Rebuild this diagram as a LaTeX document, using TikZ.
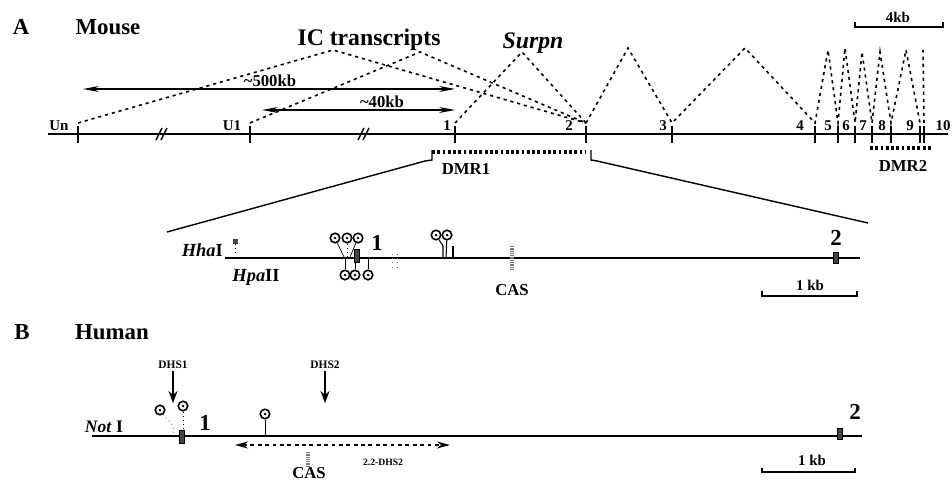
\documentclass[tikz,border=0pt]{standalone}
\usepackage{fontspec}
\setmainfont{Liberation Serif}
\usepackage{tikz}
\usetikzlibrary{positioning, arrows.meta}
\definecolor{sitegray}{HTML}{444444}
\definecolor{spangray}{HTML}{777777}

\tikzset{
  gene/.style={line width=0.8pt},
  exontick/.style={line width=1.3pt},
  splice/.style={line width=0.9pt, dash pattern=on 1.8pt off 2.2pt},
  dmrbar/.style={line width=2.6pt, dash pattern=on 1.6pt off 1.4pt},
  span/.style={line width=0.7pt, <->, >={Stealth[length=3.2mm, width=1.2mm, fill=spangray]}},
  cpg/.style={circle, draw, line width=0.9pt, inner sep=0pt, minimum size=0.19cm, fill=white},
  exonbox/.style={draw, fill=sitegray, line width=0.4pt, inner sep=0pt,
    minimum width=0.11cm, minimum height=0.26cm},
  casmark/.style={line width=1.8pt, draw=spangray, dash pattern=on 0.7pt off 0.6pt},
  panel/.style={font=\bfseries\fontsize{13}{15}\selectfont},
  title/.style={font=\bfseries\fontsize{13.5}{15}\selectfont},
  exlbl/.style={font=\bfseries\fontsize{8.5}{10}\selectfont, inner sep=1pt},
  lbl/.style={font=\bfseries\fontsize{9.5}{11}\selectfont, inner sep=1pt},
  tiny/.style={font=\bfseries\fontsize{6.5}{7}\selectfont, inner sep=1pt},
  bignum/.style={font=\bfseries\fontsize{13}{15}\selectfont, inner sep=1pt}
}

\begin{document}
\begin{tikzpicture}[x=0.02cm, y=-0.02cm]
  \useasboundingbox (0,0) rectangle (952,480);

  % --- A: mouse locus
  \node[panel] (pa) at (21,27) {A};
  \node[panel] (mouse) at (108,27) {Mouse};
  \node[title] (ic) at (369,40) {IC transcripts};
  \node[title, font=\bfseries\itshape\fontsize{13.5}{15}\selectfont] (surpn) at (533,43) {Surpn};

  \draw[gene] (48,134) -- (948,134);
  \foreach \n/\x in {un/78, u1/250, e1/455, e2/586, e3/672, e4/815, e5/838,
                     e6/855, e7/872, e8/891, e9/920, e9b/924} {
    \draw[exontick] (\x,126) -- (\x,143);
    \coordinate (\n) at (\x,123);
  }
  \foreach \t/\x in {Un/59, U1/232, 1/447, 2/569, 3/663, 4/800, 5/828,
                     6/846, 7/863, 8/882, 9/910, 10/943}
    \node[exlbl] (lb\t) at (\x,126) {\t};
  \foreach \x in {163,365}
    \draw[gene] (\x-7,140) -- (\x-1,128) (\x-2,140) -- (\x+4,128);

  \draw[span] (83,89) -- (455,89);
  \node[lbl] (k500) at (270,81) {\textasciitilde500kb};
  \draw[span] (262,110) -- (455,110);
  \node[lbl] (k40) at (382,102) {\textasciitilde40kb};

  % splicing
  \coordinate (icL) at (333,50);  \coordinate (icR) at (420,52);
  \coordinate (sn) at (522,52);   \coordinate (a23) at (628,48);
  \coordinate (a34) at (745,48);  \coordinate (a45) at (828,50);
  \coordinate (a56) at (845,48);  \coordinate (a67) at (862,52);
  \coordinate (a78) at (880,52);  \coordinate (a89) at (906,50);
  \coordinate (a9) at (923,50);
  \draw[splice] (un) -- (icL) -- (e2);
  \draw[splice] (u1) -- (icR) -- (e2);
  \draw[splice] (e1) -- (sn) -- (e2);
  \draw[splice] (e2) -- (a23) -- (e3) -- (a34) -- (e4) -- (a45) -- (e5) -- (a56)
    -- (e6) -- (a67) -- (e7) -- (a78) -- (e8) -- (a89) -- (e9);
  \draw[splice] (e9b) -- (a9);

  \draw[line width=0.6pt] (855,22) -- (855,27) -- (943,27) -- (943,22);
  \node[exlbl] (k4) at (898,17) {4kb};

  % DMRs and zoom
  \draw[dmrbar] (432,152) -- (585,152);
  \node[lbl] (dmr1) at (466,169) {DMR1};
  \draw[dmrbar] (870,148) -- (932,148);
  \node[lbl] (dmr2) at (903,166) {DMR2};
  \draw[gene] (432,150) -- (432,160) -- (425,161) -- (167,232);
  \draw[gene] (591,150) -- (591,160) -- (597,161) -- (868,223);

  % DMR1 detail
  \draw[gene] (225,258) -- (860,258);
  \node[lbl, font=\bfseries\fontsize{10.5}{12}\selectfont, anchor=east] (hha) at (225,250) {\textit{Hha}I};
  \node[lbl, font=\bfseries\fontsize{10.5}{12}\selectfont] (hpa) at (256,277) {\textit{Hpa}II};
  \draw[dotted, thin] (235,244) -- (235,258);
  \node[fill=sitegray, inner sep=0pt, minimum size=0.1cm] (hs) at (235,241) {};

  \node[cpg] (u1c) at (335,238) {};
  \node[cpg] (u2c) at (347,238) {};
  \node[cpg] (u3c) at (358,238) {};
  \draw[thin] (u1c) -- (344,257) (u3c) -- (350,257);
  \draw[dotted, thin] (u2c) -- (347,257);
  \node[cpg] (d1c) at (345,275) {};
  \node[cpg] (d2c) at (355,275) {};
  \node[cpg] (d3c) at (368,275) {};
  \foreach \c in {d1c, d2c, d3c}
    \draw[thin] (\c.north) -- (\c.north |- 0,258);
  \node[exonbox] (m1) at (357,256) {};
  \node[bignum] (m1l) at (377,243) {1};
  \draw[dotted, thin, spangray] (392,254) -- (392,268) (397,254) -- (397,268);

  \node[cpg] (u4c) at (436,235) {};
  \node[cpg] (u5c) at (447,235) {};
  \draw[line width=0.6pt] (u4c) -- (443,246) -- (443,258);
  \draw[line width=0.6pt] (u5c) -- (446,258);
  \draw[line width=0.6pt] (453,246) -- (453,258);

  \draw[casmark] (512,246) -- (512,270);
  \node[lbl] (casm) at (512,290) {CAS};
  \node[exonbox, minimum height=0.22cm] (m2) at (836,258) {};
  \node[bignum] (m2l) at (836,238) {2};
  \draw[line width=0.6pt] (762,291) -- (762,296) -- (857,296) -- (857,291);
  \node[exlbl] (kb1) at (810,285) {1 kb};

  % --- B: human locus
  \node[panel] (pb) at (22,332) {B};
  \node[panel] (human) at (112,332) {Human};
  \draw[gene] (92,436) -- (862,436);
  \node[lbl, font=\bfseries\fontsize{10}{12}\selectfont] (noti) at (104,427) {\textit{Not} I};

  \node[tiny] (dhs1) at (173,365) {DHS1};
  \draw[line width=1pt, -{Stealth[length=2.4mm, width=1.8mm]}] (dhs1) -- (173,403);
  \node[tiny] (dhs2) at (325,365) {DHS2};
  \draw[line width=1pt, -{Stealth[length=2.4mm, width=1.8mm]}] (dhs2) -- (325,403);

  \node[cpg] (h1c) at (160,410) {};
  \node[cpg] (h2c) at (183,406) {};
  \node[cpg] (h3c) at (265,414) {};
  \draw[dotted, thin] (h1c) .. controls (168,422) and (174,420) .. (174,436);
  \draw[dotted, thin] (h2c) -- (183,436);
  \draw[thin] (h3c) -- (265,436);
  \node[exonbox] (h1) at (182,437) {};
  \node[bignum] (h1l) at (205,423) {1};

  % dots in the CpG circles
  \foreach \c in {u1c, u2c, u3c, u4c, u5c, d1c, d2c, d3c, h1c, h2c, h3c}
    \fill (\c.center) circle (0.85pt);

  \draw[line width=0.8pt, dash pattern=on 2.2pt off 2pt, <->,
        >={Stealth[length=2.6mm, width=1.4mm]}] (235,445) -- (450,445);
  \node[font=\bfseries\fontsize{5.5}{6}\selectfont, inner sep=1pt] (dd) at (383,462) {2.2-DHS2};
  \draw[casmark] (308,452) -- (308,467);
  \node[lbl] (cash) at (309,473) {CAS};

  \node[exonbox, minimum height=0.22cm] (h2) at (840,434) {};
  \node[bignum] (h2l) at (855,412) {2};
  \draw[line width=0.6pt] (762,468) -- (762,472) -- (855,472) -- (855,468);
  \node[exlbl] (kb2) at (812,460) {1 kb};
\end{tikzpicture}
\end{document}
